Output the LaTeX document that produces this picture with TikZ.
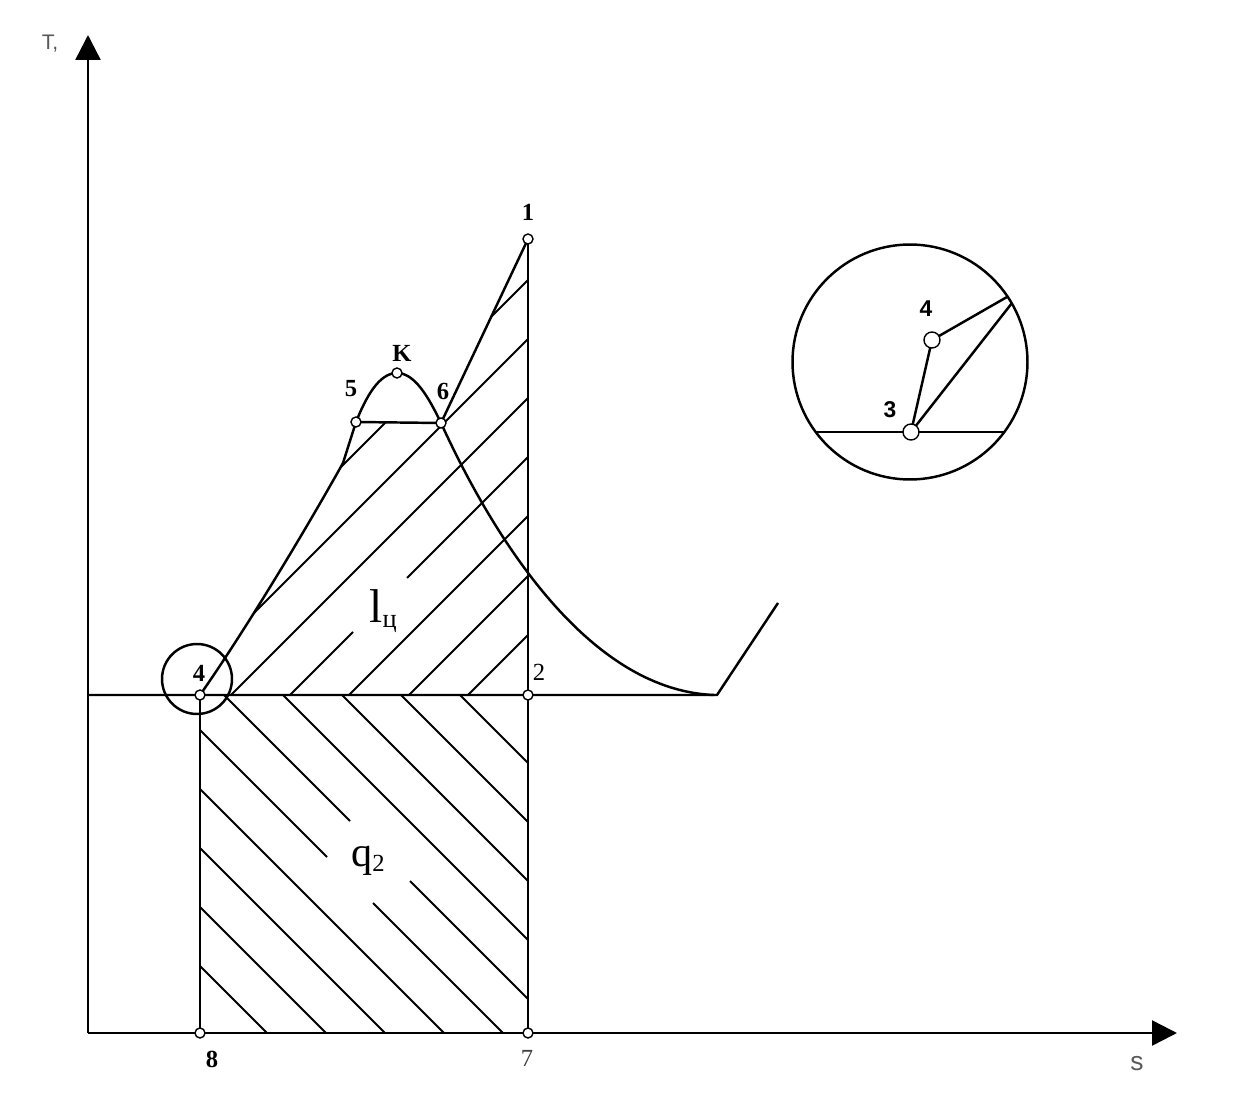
\documentclass[tikz,border=0pt]{standalone}
\usepackage{fontspec}
\setmainfont{Liberation Serif}
\setsansfont{Liberation Sans}
\usetikzlibrary{arrows.meta}
\begin{document}
\begin{tikzpicture}[x=0.02cm,y=-0.02cm,
  ln/.style={line width=1.4pt,line join=round},
  hatch/.style={line width=1.2pt},
  axis/.style={line width=1.4pt,-{Triangle[length=0.5cm,width=0.5cm]}},
  pt/.style={circle,draw,fill=white,line width=0.8pt,inner sep=0pt,minimum size=0.2cm},
  ipt/.style={circle,draw,fill=white,line width=0.8pt,inner sep=0pt,minimum size=0.32cm},
  lab/.style={font=\fontsize{14}{14}\selectfont\bfseries,inner sep=0pt},
  labr/.style={font=\fontsize{14}{14}\selectfont,inner sep=0pt},
  ilab/.style={font=\sffamily\bfseries\fontsize{13}{13}\selectfont,inner sep=0pt},
  axlab/.style={font=\sffamily\fontsize{12}{12}\selectfont,text=black!65,inner sep=0pt}]
\useasboundingbox (0,0) rectangle (1252,1098);
% coordinates
\coordinate (O) at (88,1033);
\coordinate (Ytip) at (88,35);
\coordinate (Xtip) at (1177,1033);
\coordinate (HL) at (88,695);
\coordinate (E) at (717,695);
\coordinate (F) at (778,603);
\coordinate (P1) at (528,239);
\coordinate (P2) at (528,695);
\coordinate (P4) at (200,695);
\coordinate (P5) at (356,422);
\coordinate (PK) at (397,373);
\coordinate (P6) at (441,423);
\coordinate (P7) at (528,1033);
\coordinate (P8) at (200,1033);
\coordinate (A) at (343,463);
% upper hatching
\begin{scope}
  \clip (P4) .. controls (240,638) and (300,540) .. (A) -- (P5) -- (P6) -- (P1) -- (P2) -- cycle;
  \foreach \c in {808,867,926,1044,1104,1163}
    \draw[hatch] ({\c-720},720) -- ({\c-200},200);
  \draw[hatch] (265,720) -- (353,632);
  \draw[hatch] (407,578) -- (785,200);
\end{scope}
% lower hatching
\begin{scope}
  \clip (P4) rectangle (P7);
  \foreach \d in {-235,-294,-353,-412,-589,-648,-707,-766}
    \draw[hatch] ({\d+690},690) -- ({\d+1040},1040);
  \draw[hatch] (219,690) -- (350,821);
  \draw[hatch] (410,881) -- (569,1040);
  \draw[hatch] (160,690) -- (327,857);
  \draw[hatch] (373,903) -- (510,1040);
\end{scope}
% axes
\draw[axis] (O) -- (Ytip);
\draw[axis] (O) -- (Xtip);
% main lines
\draw[ln] (HL) -- (E) -- (F);
\draw[ln] (P7) -- (P1);
\draw[ln] (P4) -- (P8);
\draw[ln] (P4) .. controls (240,638) and (300,540) .. (A) -- (P5) -- (P6) -- (P1);
\draw[ln] (P5) .. controls (366,397) and (379,373) .. (PK) .. controls (415,373) and (429,398) .. (P6)
  .. controls (490,530) and (585,690) .. (714,695);
% circle around 4
\draw[ln] (197,679) circle[radius=0.7cm];
% inset
\coordinate (IC) at (910,362);
\coordinate (CL) at (816,432);
\coordinate (CR) at (1005,432);
\coordinate (Q1) at (1007,297);
\coordinate (Q2) at (1012,303);
\draw[ln] (IC) circle[radius=2.35cm];
\draw[ln] (CL) -- (CR);
\draw[ln] (932,340) -- (Q1);
\draw[ln] (911,432) -- (Q2);
\draw[ln] (911,432) -- (932,340);
\node[ipt] (I4) at (932,340) {};
\node[ipt] (I3) at (911,432) {};
\node[ilab] (lI4) at (926,309) {4};
\node[ilab] (lI3) at (890,410) {3};
% points
\node[pt] (n1) at (P1) {};
\node[pt] (n2) at (P2) {};
\node[pt] (n4) at (P4) {};
\node[pt] (n5) at (P5) {};
\node[pt] (nK) at (PK) {};
\node[pt] (n6) at (P6) {};
\node[pt] (n7) at (P7) {};
\node[pt] (n8) at (P8) {};
% labels
\node[lab] (l1) at (528,212) {1};
\node[lab] (lK) at (402,353) {K};
\node[lab] (l5) at (351,389) {5};
\node[lab] (l6) at (443,391) {6};
\node[lab] (l4) at (199,673) {4};
\node[labr] (l2) at (539,672) {2};
\node[lab] (l8) at (212,1059) {8};
\node[labr,text=black!75] (l7) at (527,1058) {7};
\node[axlab] (lT) at (50,44) {T,};
\node[axlab,font=\sffamily\fontsize{15}{15}\selectfont] (lS) at (1137,1064) {s};
\node[anchor=base west,inner sep=0pt] (lc) at (369,622) {\fontsize{27}{27}\selectfont l\raisebox{-3.4pt}{\fontsize{15}{15}\selectfont ц}};
\node[anchor=base west,inner sep=0pt] (q2) at (351,866) {\fontsize{24}{24}\selectfont q\raisebox{-3.4pt}{\fontsize{14}{14}\selectfont 2}};
\end{tikzpicture}
\end{document}
